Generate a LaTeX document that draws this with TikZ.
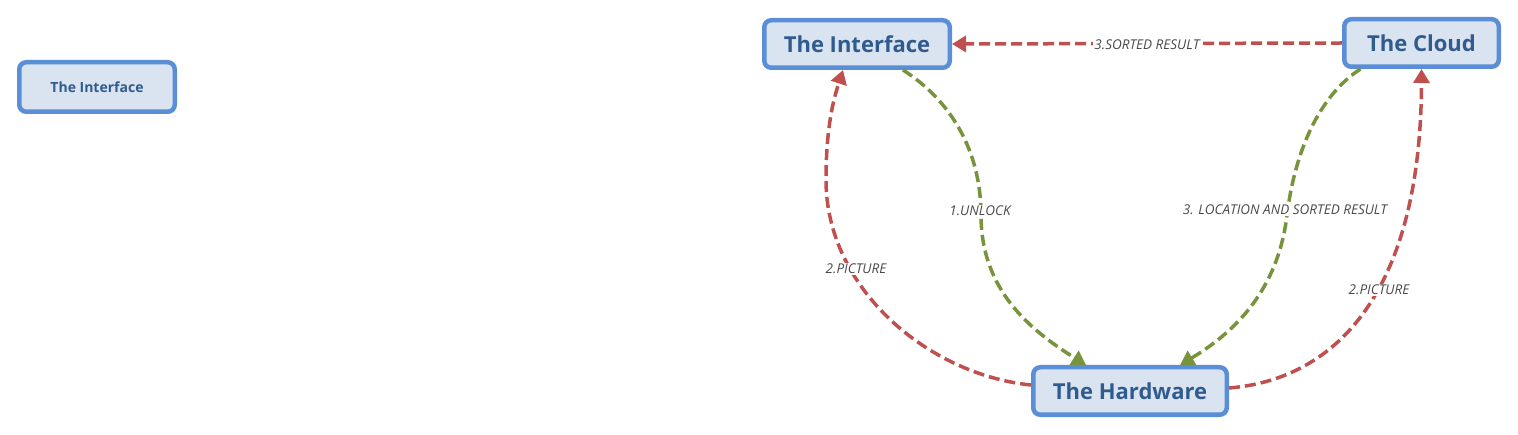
\documentclass[tikz,border=0pt]{standalone}
\usepackage{fontspec}
\setmainfont{Open Sans}
\usetikzlibrary{arrows.meta}
\definecolor{nfill}{HTML}{DAE3F0}
\definecolor{nborder}{HTML}{5A8ED6}
\definecolor{ntext}{HTML}{2F5B8F}
\definecolor{ered}{HTML}{C0504D}
\definecolor{egreen}{HTML}{77933C}
\definecolor{lbltext}{HTML}{4A4A4A}
\begin{document}
\begin{tikzpicture}[x=1pt,y=-1pt,
  box/.style={draw=nborder, line width=4.5pt, fill=nfill, rounded corners=7pt, text=ntext,
    font=\bfseries\fontsize{22}{26}\selectfont, inner sep=0pt, minimum height=47.5pt},
  smallbox/.style={box, font=\bfseries\fontsize{14}{17}\selectfont, minimum height=49.5pt},
  redge/.style={draw=ered, line width=3.5pt, dash pattern=on 11pt off 5pt, -{Triangle[length=14pt,width=16pt]}},
  gedge/.style={draw=egreen, line width=3.5pt, dash pattern=on 11pt off 5pt, -{Triangle[length=14pt,width=16pt]}},
  lbl/.style={fill=white, inner sep=1.5pt, text=lbltext, font=\itshape\fontsize{13.5}{15}\selectfont}
]
\useasboundingbox (0,0) rectangle (1518,435);
\node[smallbox, minimum width=155.5pt] (small) at (97,87) {The Interface};
\node[box, minimum width=185.5pt] (iface) at (857,44) {The Interface};
\node[box, minimum width=154.5pt] (cloud) at (1421.5,43) {The Cloud};
\node[box, minimum width=193.5pt] (hw) at (1130,391) {The Hardware};

\draw[redge] (cloud.west) -- (iface.east);
\draw[gedge] ([xshift=46pt]iface.south) .. controls (950,100) and (981,150) .. (981,215)
  .. controls (981,290) and (1030,330) .. ([xshift=-44pt]hw.north);
\draw[redge] ([yshift=6pt]hw.west) .. controls (930,375) and (826,290) .. (826,180)
  .. controls (826,120) and (836,92) .. ([xshift=-14pt]iface.south);
\draw[gedge] ([xshift=-61pt]cloud.south) .. controls (1320,95) and (1295,150) .. (1287,215)
  .. controls (1278,290) and (1235,332) .. ([xshift=50pt]hw.north);
\draw[redge] ([yshift=3pt]hw.east) .. controls (1330,380) and (1421,300) .. (cloud.south);

\node[lbl] (l1) at (1147,45) {3.SORTED RESULT};
\node[lbl] (l2) at (980,211) {1.UNLOCK};
\node[lbl] (l3) at (856,269) {2.PICTURE};
\node[lbl] (l4) at (1285,210) {3. LOCATION AND SORTED RESULT};
\node[lbl] (l5) at (1379,290) {2.PICTURE};
\end{tikzpicture}
\end{document}
